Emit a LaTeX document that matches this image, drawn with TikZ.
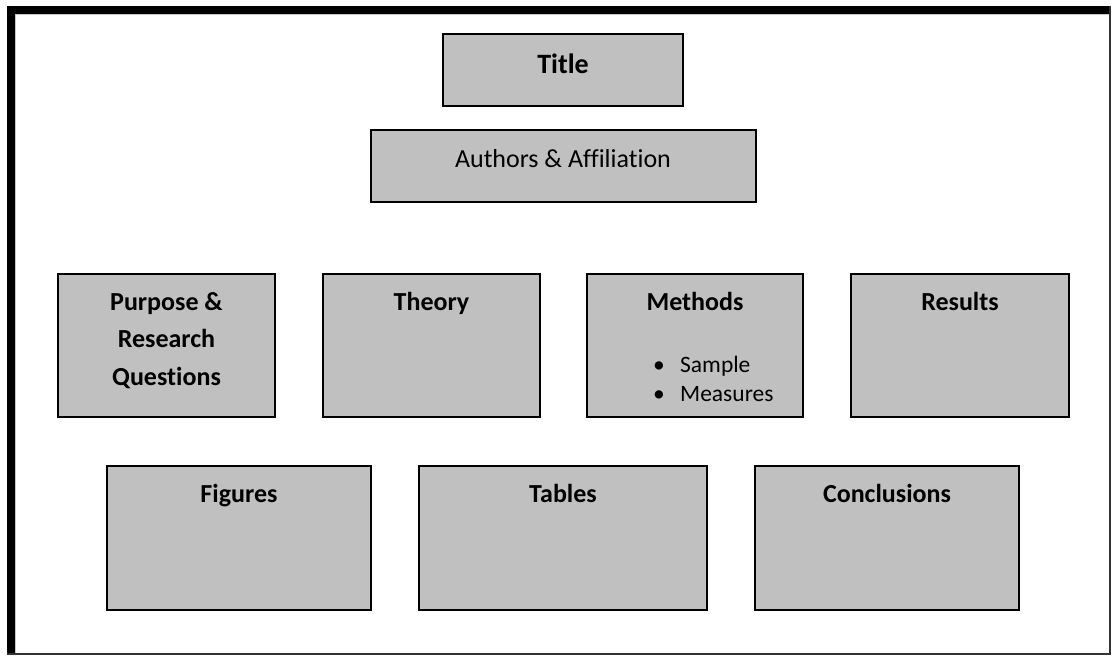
\documentclass[tikz,border=0pt]{standalone}
\usepackage{fontspec}
\setmainfont{Carlito}[Ligatures={NoCommon}]
\definecolor{boxgray}{HTML}{C0C0C0}
\definecolor{framegray}{HTML}{333333}
\tikzset{
  panel/.style={draw=black, fill=boxgray, line width=2pt, inner sep=0pt},
  head/.style={font=\fontsize{26}{37}\selectfont\bfseries, inner sep=0pt, anchor=base},
  plain/.style={font=\fontsize{26}{32}\selectfont, inner sep=0pt, anchor=base},
  item/.style={font=\fontsize{23.5}{29}\selectfont, inner sep=0pt, anchor=base west},
}
\begin{document}
\begin{tikzpicture}[x=1pt,y=-1pt]
\useasboundingbox (0,0) rectangle (1113,656);
% outer frame
\fill[white] (0,0) rectangle (1113,656);
\fill[black] (7,6) rectangle (15,654);
\fill[black] (7,6) rectangle (1110,14);
\draw[gray!45, line width=1pt] (15.5,654) -- (15.5,14.5) -- (1110,14.5);
\draw[framegray, line width=2pt] (1110,6) -- (1110,655);
\draw[framegray, line width=2pt] (7,654) -- (1111,654);

% boxes
\node[panel, minimum width=240pt, minimum height=72pt] (title) at (563,70) {};
\node[panel, minimum width=385pt, minimum height=72pt] (authors) at (563.5,166) {};
\node[panel, minimum width=217pt, minimum height=143pt] (purpose) at (166.5,345.5) {};
\node[panel, minimum width=217pt, minimum height=143pt] (theory) at (431.5,345.5) {};
\node[panel, minimum width=216pt, minimum height=143pt] (methods) at (695,345.5) {};
\node[panel, minimum width=218pt, minimum height=143pt] (results) at (960,345.5) {};
\node[panel, minimum width=264pt, minimum height=144pt] (figures) at (239,538) {};
\node[panel, minimum width=288pt, minimum height=144pt] (tables) at (563,538) {};
\node[panel, minimum width=264pt, minimum height=144pt] (conclusions) at (887,538) {};

% texts
\node[head, font=\fontsize{28}{34}\selectfont\bfseries] (titleT) at (563,73) {Title};
\node[plain] (authorsT) at (563,167) {Authors \& Affiliation};
\node[head] (purposeT1) at (166.5,310) {Purpose \&};
\node[head] (purposeT2) at (166.5,347.5) {Research};
\node[head] (purposeT3) at (166.5,385) {Questions};
\node[head] (theoryT) at (431.5,310) {Theory};
\node[head] (methodsT) at (695,310) {Methods};
\node[item] (sample) at (653,372) {\makebox[27pt][l]{\textbullet}Sample};
\node[item] (measures) at (653,401) {\makebox[27pt][l]{\textbullet}Measures};
\node[head] (resultsT) at (960,310) {Results};
\node[head] (figuresT) at (239,502) {Figures};
\node[head] (tablesT) at (563,502) {Tables};
\node[head] (conclusionsT) at (887,502) {Conclusions};
\end{tikzpicture}
\end{document}
